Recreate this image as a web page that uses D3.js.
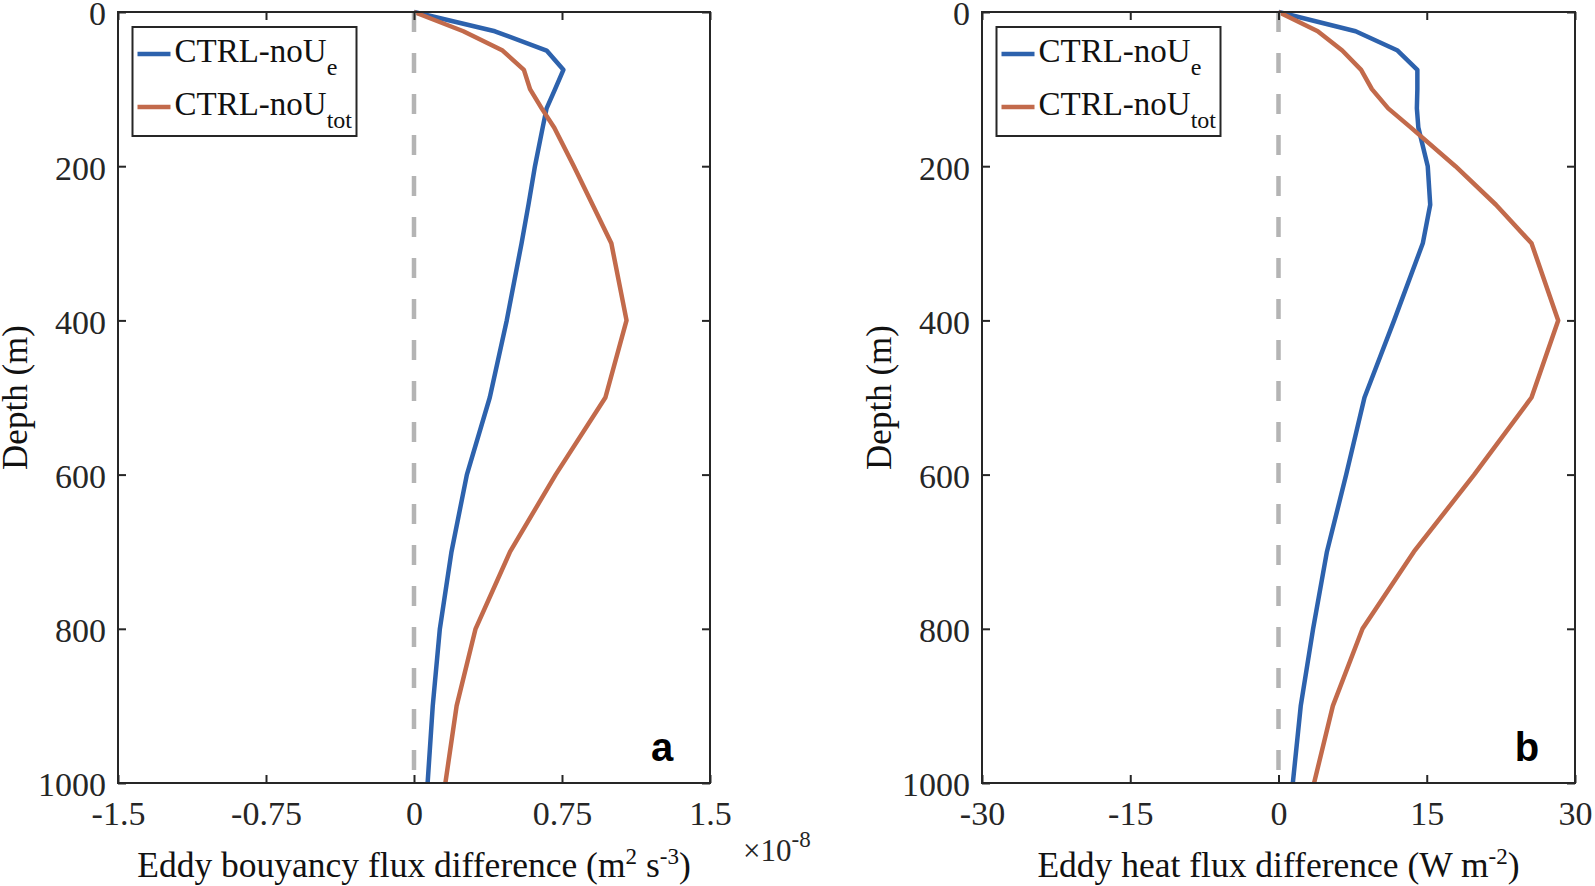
<!DOCTYPE html>
<html>
<head>
<meta charset="utf-8">
<script src="https://cdn.jsdelivr.net/npm/d3@7/dist/d3.min.js"></script>
<style>
  html, body { margin: 0; padding: 0; background: #fff; }
  svg { display: block; }
</style>
</head>
<body>
<svg id="chart" width="1595" height="886"></svg>
<script>
// ---- Data ----
const depths = [0, 25, 50, 75, 100, 125, 150, 200, 250, 300, 400, 500, 600, 700, 800, 900, 1000];

// Panel a: eddy buoyancy flux difference (x 1e-8 m^2 s^-3)
const buoyNoUe  = [0, 0.41, 0.672, 0.757, 0.715, 0.672, 0.652, 0.613, 0.58, 0.545, 0.47, 0.384, 0.268, 0.19, 0.131, 0.095, 0.069];
const buoyNoUtot = [0, 0.25, 0.449, 0.557, 0.588, 0.647, 0.711, 0.81, 0.905, 1.0, 1.077, 0.97, 0.718, 0.487, 0.312, 0.216, 0.159];

// Panel b: eddy heat flux difference (W m^-2)
const heatNoUe  = [0, 7.8, 12.05, 14.05, 14.05, 14.0, 14.15, 15.1, 15.35, 14.6, 11.7, 8.7, 6.85, 4.9, 3.5, 2.25, 1.45];
const heatNoUtot = [0, 3.97, 6.45, 8.36, 9.45, 11.1, 13.4, 17.9, 22.0, 25.6, 28.3, 25.6, 19.8, 13.7, 8.5, 5.5, 3.6];

const seriesNames = ["CTRL-noU", "CTRL-noU"];
const seriesSubs = ["e", "tot"];
const seriesColors = ["#2d62ad", "#c26a4b"];

const xTicksA = [-1.5, -0.75, 0, 0.75, 1.5];
const xTickLabelsA = ["-1.5", "-0.75", "0", "0.75", "1.5"];
const xTicksB = [-30, -15, 0, 15, 30];
const xTickLabelsB = ["-30", "-15", "0", "15", "30"];
const yTicks = [0, 200, 400, 600, 800, 1000];
const yTickLabels = ["0", "200", "400", "600", "800", "1000"];

// ---- Drawing ----
const svg = d3.select("#chart");
const FONT = "'Liberation Serif', 'Times New Roman', serif";
const INK = "#262626";

function drawPanel(cfg) {
  const { left, right, top, bottom } = cfg;
  const x = d3.scaleLinear().domain(cfg.xDomain).range([left, right]);
  const y = d3.scaleLinear().domain([0, 1000]).range([top, bottom]);
  const g = svg.append("g");

  // curves
  const line = d3.line().x(d => x(d[0])).y(d => y(d[1]));
  cfg.series.forEach((vals, i) => {
    g.append("path")
      .datum(vals.map((v, k) => [v, depths[k]]))
      .attr("d", line)
      .attr("fill", "none")
      .attr("stroke", seriesColors[i])
      .attr("stroke-width", 4.5)
      .attr("stroke-linejoin", "round");
  });

  // zero dashed line
  g.append("line")
    .attr("x1", x(0)).attr("x2", x(0))
    .attr("y1", y(0)).attr("y2", y(1000))
    .attr("stroke", "#b4b4b4")
    .attr("stroke-width", 4.5)
    .attr("stroke-dasharray", "20,21");

  // axes
  const styleAxis = sel => {
    sel.select(".domain").remove();
    sel.selectAll(".tick line").attr("stroke", INK).attr("stroke-width", 2);
    sel.selectAll(".tick text")
      .attr("fill", INK)
      .style("font-family", FONT)
      .style("font-size", "34px");
  };
  g.append("g").attr("transform", `translate(0,${bottom})`)
    .call(d3.axisBottom(x).tickValues(cfg.xTicks).tickFormat((d, i) => cfg.xTickLabels[i])
      .tickSizeInner(-8).tickSizeOuter(0).tickPadding(18))
    .call(styleAxis);
  g.append("g").attr("transform", `translate(0,${top})`)
    .call(d3.axisTop(x).tickValues(cfg.xTicks).tickFormat("")
      .tickSizeInner(-8).tickSizeOuter(0))
    .call(styleAxis);
  g.append("g").attr("transform", `translate(${left},0)`)
    .call(d3.axisLeft(y).tickValues(yTicks).tickFormat((d, i) => yTickLabels[i])
      .tickSizeInner(-8).tickSizeOuter(0).tickPadding(12))
    .call(styleAxis)
    .call(sel => sel.selectAll(".tick text").attr("dy", "0.38em"));
  g.append("g").attr("transform", `translate(${right},0)`)
    .call(d3.axisRight(y).tickValues(yTicks).tickFormat("")
      .tickSizeInner(-8).tickSizeOuter(0))
    .call(styleAxis);

  // frame
  g.append("rect")
    .attr("x", left).attr("y", top)
    .attr("width", right - left).attr("height", bottom - top)
    .attr("fill", "none").attr("stroke", INK).attr("stroke-width", 2);

  // legend
  const lg = g.append("g").attr("transform", `translate(${left + 14.5},27)`);
  lg.append("rect").attr("x", 0).attr("y", 0).attr("width", 224).attr("height", 109)
    .attr("fill", "#fff").attr("stroke", INK).attr("stroke-width", 2);
  seriesNames.forEach((name, i) => {
    const cy = 27 + i * 53;
    lg.append("line").attr("x1", 5).attr("x2", 38).attr("y1", cy).attr("y2", cy)
      .attr("stroke", seriesColors[i]).attr("stroke-width", 4.3);
    const t = lg.append("text").attr("x", 42).attr("y", cy + 8)
      .attr("fill", "#111").style("font-family", FONT).style("font-size", "33px");
    t.append("tspan").text(name);
    t.append("tspan").attr("dy", 13).style("font-size", "24px").text(seriesSubs[i]);
  });

  // panel letter
  g.append("text").attr("x", right - 48).attr("y", bottom - 22)
    .attr("text-anchor", "middle")
    .attr("fill", "#000")
    .style("font-family", "'Liberation Sans', Arial, sans-serif")
    .style("font-weight", "bold").style("font-size", "40px")
    .text(cfg.letter);

  // y label
  g.append("text")
    .attr("transform", `translate(${left - 91},${(top + bottom) / 2}) rotate(-90)`)
    .attr("text-anchor", "middle")
    .attr("fill", "#111").style("font-family", FONT).style("font-size", "35px")
    .text("Depth (m)");

  // x label
  const xl = g.append("text")
    .attr("x", (left + right) / 2).attr("y", 877)
    .attr("text-anchor", "middle")
    .attr("fill", "#111").style("font-family", FONT).style("font-size", "35.5px");
  cfg.xLabel.forEach(part => {
    const ts = xl.append("tspan").text(part.t);
    if (part.sup) ts.attr("dy", -13).style("font-size", "23px");
    if (part.down) ts.attr("dy", 13);
  });

  return { x, y, g };
}

const pa = drawPanel({
  left: 118, right: 710, top: 12, bottom: 783,
  xDomain: [-1.5, 1.5], xTicks: xTicksA, xTickLabels: xTickLabelsA,
  series: [buoyNoUe, buoyNoUtot], letter: "a",
  xLabel: [{ t: "Eddy bouyancy flux difference (m" }, { t: "2", sup: true },
           { t: " s", down: true }, { t: "-3", sup: true }, { t: ")", down: true }]
});

// exponent label for panel a
const ex = pa.g.append("text").attr("x", 743).attr("y", 861)
  .attr("fill", INK).style("font-family", FONT).style("font-size", "31px");
ex.append("tspan").text("\u00d710");
ex.append("tspan").attr("dy", -14).style("font-size", "23px").text("-8");

drawPanel({
  left: 982, right: 1575, top: 12, bottom: 783,
  xDomain: [-30, 30], xTicks: xTicksB, xTickLabels: xTickLabelsB,
  series: [heatNoUe, heatNoUtot], letter: "b",
  xLabel: [{ t: "Eddy heat flux difference (W m" }, { t: "-2", sup: true }, { t: ")", down: true }]
});
</script>
</body>
</html>
